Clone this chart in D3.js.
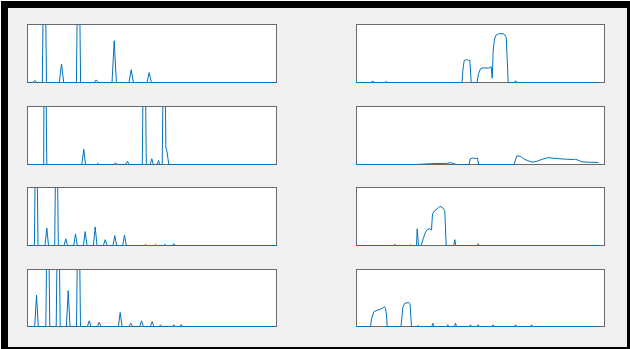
<!DOCTYPE html>
<html>
<head>
<meta charset="utf-8">
<script src="https://cdn.jsdelivr.net/npm/d3@7"></script>
<style>
html,body{margin:0;padding:0;background:#fff;}
svg{display:block;}
</style>
</head>
<body>
<script>
// ---- data (x = sample position, y = normalised amplitude) ----
const s1X = [0, 5, 7.3, 9.5, 14.8, 16.9, 19, 31.8, 34, 36.2, 48.9, 51, 53.1, 66.5, 68.7, 71, 84.5, 86.7, 88.9, 101.5, 103.7, 105.9, 119.5, 121.7, 123.9, 249];
const s1Y = [0, 0, 0.035, 0, 0, 3.2, 0, 0, 0.32, 0, 0, 3.2, 0, 0, 0.045, 0, 0, 0.72, 0, 0, 0.22, 0, 0, 0.17, 0, 0];

const s2X = [0, 14.5, 16.3, 18, 28, 29.7, 31.5, 105.5, 106.3, 107.7, 110, 112, 113.3, 114.7, 120.5, 122, 124, 127.3, 132.3, 134.7, 135.7, 136.7, 138, 139.7, 143, 147.3, 149.7, 150.7, 151.7, 157.5, 159, 160.5, 242];
const s2Y = [0, 0, 0.025, 0, 0, 0.012, 0, 0, 0.2, 0.38, 0.395, 0.38, 0.385, 0, 0, 0.15, 0.236, 0.253, 0.247, 0.27, 0.075, 0.55, 0.75, 0.82, 0.845, 0.839, 0.78, 0.408, 0, 0, 0.03, 0, 0];

const s3X = [0, 16.2, 17, 19.3, 54.3, 56.3, 58, 69, 70.3, 71.5, 86.5, 88, 89.5, 98.3, 100, 101.7, 114.8, 116.8, 118.8, 122.8, 124.3, 125.8, 129.8, 131, 132.2, 134.7, 137, 138.3, 139.5, 141.3, 249];
const s3Y = [0, 0, 4, 0, 0, 0.26, 0, 0, 0.02, 0, 0, 0.03, 0, 0, 0.057, 0, 0, 3.5, 0, 0, 0.1, 0, 0, 0.07, 0, 0, 3.5, 0.3, 0.22, 0, 0];

const s4X = [0, 60, 75, 90, 95, 98, 100, 112.5, 113.8, 116, 119, 121, 122.2, 157.5, 160.3, 164, 167.3, 170.7, 175.7, 180.7, 185.7, 192.3, 195.7, 202.3, 209, 215.7, 219, 222.3, 225.7, 232.3, 242];
const s4Y = [0, 0, 0.015, 0.02, 0.03, 0.01, 0, 0, 0.1, 0.11, 0.105, 0.11, 0, 0, 0.15, 0.14, 0.098, 0.069, 0.04, 0.057, 0.09, 0.12, 0.109, 0.1, 0.092, 0.086, 0.09, 0.069, 0.046, 0.04, 0.034];

const s5X = [0, 6.9, 8.7, 10.5, 17.5, 19.3, 21, 27.2, 29, 30.8, 36.5, 38.3, 40, 46.2, 48, 49.8, 55.9, 57.7, 59.5, 65.9, 67.7, 69.5, 75.9, 77.7, 79.5, 85.5, 87.3, 89.1, 95.2, 97, 98.8, 116.8, 118, 119.2, 126.8, 128, 129.2, 136.1, 137.3, 138.5, 145.1, 146.3, 147.5, 249];
const s5Y = [0, 0, 3, 0, 0, 0.3, 0, 0, 3, 0, 0, 0.115, 0, 0, 0.2, 0, 0, 0.24, 0, 0, 0.32, 0, 0, 0.1, 0, 0, 0.17, 0, 0, 0.18, 0, 0, 0.02, 0, 0, 0.02, 0, 0, 0.02, 0, 0, 0.03, 0, 0];

const s6X = [0, 37, 38.3, 39.5, 53, 54, 55, 60, 60.7, 62, 64.7, 66.7, 69, 70.7, 73.3, 75, 76, 78.3, 80.7, 83.3, 85.7, 87.3, 88.3, 89.7, 97.3, 98.3, 99.3, 120.7, 121.7, 122.7, 242];
const s6Y = [0, 0, 0.02, 0, 0, 0.015, 0, 0, 0.287, 0, 0, 0.115, 0.23, 0.276, 0.287, 0.27, 0.546, 0.603, 0.632, 0.672, 0.66, 0.62, 0.59, 0, 0, 0.1, 0, 0, 0.03, 0, 0];

const s7X = [0, 7.2, 9, 10.8, 18.3, 20.3, 22.3, 28.7, 30.7, 32.7, 38.9, 40.7, 42.5, 49, 51, 53, 59.9, 61.7, 63.5, 69.9, 71.7, 73.5, 90.9, 92.7, 94.5, 101.5, 103.3, 105.1, 112.2, 114, 115.8, 122.9, 124.7, 126.5, 131.8, 133, 134.2, 145.1, 146.3, 147.5, 152.5, 153.7, 154.9, 249];
const s7Y = [0, 0, 0.55, 0, 0, 3, 0, 0, 3, 0, 0, 0.63, 0, 0, 3, 0, 0, 0.1, 0, 0, 0.075, 0, 0, 0.247, 0, 0, 0.057, 0, 0, 0.1, 0, 0, 0.086, 0, 0, 0.03, 0, 0, 0.03, 0, 0, 0.035, 0, 0];

const s8X = [0, 14, 15, 17.3, 20.7, 24, 26.7, 28, 29, 30, 30.7, 44.5, 46.3, 48.3, 52.3, 53.5, 55, 60.7, 61.7, 62.7, 75.3, 76.3, 77.3, 90.3, 91.3, 92.3, 98, 99, 100, 113, 114, 115, 120.7, 121.7, 122.7, 135.7, 136.7, 137.7, 158, 159, 160, 174, 175, 176, 242];
const s8Y = [0, 0, 0.132, 0.259, 0.287, 0.305, 0.328, 0.35, 0.316, 0.2, 0, 0, 0.333, 0.408, 0.42, 0.4, 0, 0, 0.02, 0, 0, 0.057, 0, 0, 0.03, 0, 0, 0.057, 0, 0, 0.03, 0, 0, 0.03, 0, 0, 0.03, 0, 0, 0.03, 0, 0, 0.03, 0, 0];

const xMax = [249, 248];   // x-limits of left / right column axes
const yMax = 1;            // y-limit (peaks above are clipped)

// ---- layout ----
const W = 630, H = 349;
const colX = [27, 356], colW = [249, 248];
const rowY = [24, 106, 187, 269], rowH = [58, 58, 58, 57];

const series = [
  {r:0,c:0,x:s1X,y:s1Y},{r:0,c:1,x:s2X,y:s2Y},
  {r:1,c:0,x:s3X,y:s3Y},{r:1,c:1,x:s4X,y:s4Y},
  {r:2,c:0,x:s5X,y:s5Y},{r:2,c:1,x:s6X,y:s6Y},
  {r:3,c:0,x:s7X,y:s7Y},{r:3,c:1,x:s8X,y:s8Y}
];

const svg = d3.select("body").append("svg").attr("width", W).attr("height", H);
svg.append("rect").attr("x",1).attr("y",1).attr("width",W-1).attr("height",H-1).attr("fill","#000");
svg.append("rect").attr("x",8).attr("y",8).attr("width",619).attr("height",339).attr("fill","#f0f0f0");

const defs = svg.append("defs");

series.forEach((s, i) => {
  const x0 = colX[s.c] + 0.5, y0 = rowY[s.r] + 0.5, w = colW[s.c], h = rowH[s.r];
  const xs = d3.scaleLinear().domain([0, xMax[s.c]]).range([x0, x0 + w]);
  const ys = d3.scaleLinear().domain([0, yMax]).range([y0 + h, y0]);
  const g = svg.append("g");
  g.append("rect").attr("x",x0).attr("y",y0).attr("width",w).attr("height",h)
    .attr("fill","#fff").attr("stroke","#6a6a6a").attr("stroke-width",1);
  defs.append("clipPath").attr("id","clip"+i).append("rect")
    .attr("x",x0-1).attr("y",y0).attr("width",w+2).attr("height",h+1);
  const pts = s.x.map((v, k) => [v, s.y[k]]);
  const line = d3.line().x(d => xs(d[0])).y(d => ys(d[1]));
  g.append("path").datum(pts).attr("d", line)
    .attr("clip-path","url(#clip"+i+")")
    .attr("fill","none").attr("stroke","#0072BD").attr("stroke-width",1)
    .attr("stroke-linejoin","round");
});
</script>
</body>
</html>
